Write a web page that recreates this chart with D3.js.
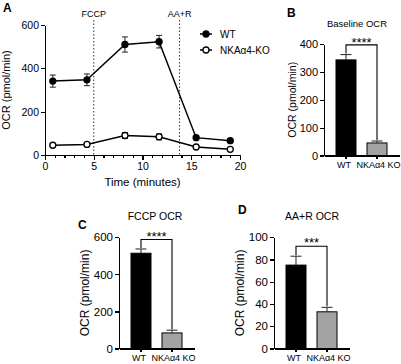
<!DOCTYPE html>
<html>
<head>
<meta charset="utf-8">
<script src="https://cdn.jsdelivr.net/npm/d3@7"></script>
<style>
  body { margin: 0; background: #ffffff; }
  svg { display: block; font-family: "Liberation Sans", Arial, Helvetica, sans-serif; }
  text { fill: #000; }
  .axis path, .axis line { stroke: #000; stroke-width: 1.2px; shape-rendering: crispEdges; }
  .axis text { font-family: "Liberation Sans", Arial, sans-serif; fill: #000; }
  .panel-letter { font-weight: bold; font-size: 12px; }
  .err { stroke: #222; stroke-width: 1px; fill: none; }
  .data-line { fill: none; stroke: #000; stroke-width: 1.5px; }
  .inject-line { stroke: #333; stroke-width: 1px; stroke-dasharray: 1.5, 2; }
  .bracket { fill: none; stroke: #000; stroke-width: 1.1px; }
</style>
</head>
<body>
<svg id="chart" width="401" height="364"></svg>
<script>
// ---- data: Seahorse trace (panel A) ----
const times = [0.8, 4.3, 8.2, 11.7, 15.5, 19.0];
const wtOcr = [341, 347, 510, 523, 80, 66];
const wtSem = [28, 27, 35, 29, 5, 8];
const koOcr = [45, 49, 90, 84, 37, 26];
const koSem = [5, 5, 14, 14, 5, 4];
const injectionNames = ['FCCP', 'AA+R'];
const injectionTimes = [5, 13.8];
const timeTicks = [0, 5, 10, 15, 20];
const ocrTicks = [0, 200, 400, 600];
const seriesNames = ['WT', 'NKAα4-KO'];

// ---- data: bar panels (B, C, D) ----
const groups = ['WT', 'NKAα4 KO'];
const baselineOcr = [343, 45];
const baselineSem = [19, 7];
const fccpOcr = [514, 84];
const fccpSem = [23, 15];
const aarOcr = [75, 33];
const aarSem = [8, 4];
const baselineTicks = [0, 100, 200, 300, 400];
const fccpTicks = [0, 200, 400, 600];
const aarTicks = [0, 20, 40, 60, 80, 100];
const stars = ['****', '****', '***'];
const bracketLevels = [397, 588, 92];

const svg = d3.select('#chart');

// ================= Panel A =================
function drawTrace() {
  const g = svg.append('g');
  const x = d3.scaleLinear().domain([0, 20]).range([45, 240]);
  const y = d3.scaleLinear().domain([0, 600]).range([155, 25]);

  g.append('text').attr('class', 'panel-letter').attr('x', 3).attr('y', 12).text('A');

  // injection markers
  injectionTimes.forEach((t, i) => {
    g.append('line')
      .attr('class', 'inject-line')
      .attr('x1', x(t)).attr('x2', x(t))
      .attr('y1', 20).attr('y2', y(0));
    g.append('text')
      .attr('x', x(t)).attr('y', 17)
      .attr('text-anchor', 'middle')
      .style('font-size', '9px')
      .text(injectionNames[i]);
  });

  // axes
  g.append('g')
    .attr('class', 'axis')
    .attr('transform', 'translate(' + x(0) + ',0)')
    .call(d3.axisLeft(y).tickValues(ocrTicks).tickSize(4).tickSizeOuter(0).tickPadding(2))
    .selectAll('text').style('font-size', '10.5px');

  g.append('g')
    .attr('class', 'axis')
    .attr('transform', 'translate(0,' + y(0) + ')')
    .call(d3.axisBottom(x).tickValues(d3.range(0, 21, 1)).tickSize(2.5).tickSizeOuter(0).tickFormat(''));

  g.append('g')
    .attr('class', 'axis')
    .attr('transform', 'translate(0,' + y(0) + ')')
    .call(d3.axisBottom(x).tickValues(timeTicks).tickSize(4.5).tickSizeOuter(0).tickPadding(3))
    .selectAll('text').style('font-size', '10.5px');

  g.append('text')
    .attr('x', (x(0) + x(20)) / 2).attr('y', 186)
    .attr('text-anchor', 'middle')
    .style('font-size', '11.5px')
    .text('Time (minutes)');

  g.append('text')
    .attr('transform', 'translate(10,' + (y(0) + y(600)) / 2 + ') rotate(-90)')
    .attr('text-anchor', 'middle')
    .style('font-size', '11px')
    .text('OCR (pmol/min)');

  const series = [
    { mean: wtOcr, sem: wtSem, fill: '#000' },
    { mean: koOcr, sem: koSem, fill: '#fff' },
  ];

  const line = d3.line().x((d) => x(d[0])).y((d) => y(d[1]));

  series.forEach((s) => {
    const pts = times.map((t, i) => [t, s.mean[i], s.sem[i]]);
    const eg = g.append('g');
    pts.forEach((p) => {
      eg.append('path')
        .attr('class', 'err')
        .attr('d',
          'M' + x(p[0]) + ',' + y(p[1] - p[2]) + 'V' + y(p[1] + p[2]) +
          'M' + (x(p[0]) - 3) + ',' + y(p[1] + p[2]) + 'H' + (x(p[0]) + 3) +
          'M' + (x(p[0]) - 3) + ',' + y(p[1] - p[2]) + 'H' + (x(p[0]) + 3));
    });
    g.append('path').attr('class', 'data-line').attr('d', line(pts));
    g.append('g')
      .selectAll('circle')
      .data(pts)
      .enter()
      .append('circle')
      .attr('cx', (d) => x(d[0]))
      .attr('cy', (d) => y(d[1]))
      .attr('r', 3)
      .attr('fill', s.fill)
      .attr('stroke', '#000')
      .attr('stroke-width', 1.3);
  });

  // legend
  const legend = g.append('g').attr('class', 'legend');
  seriesNames.forEach((name, i) => {
    const ly = 34 + i * 16;
    legend.append('line')
      .attr('x1', 200).attr('x2', 212).attr('y1', ly).attr('y2', ly)
      .attr('stroke', '#000').attr('stroke-width', 1.5);
    legend.append('circle')
      .attr('cx', 206).attr('cy', ly).attr('r', 3)
      .attr('fill', series[i].fill).attr('stroke', '#000').attr('stroke-width', 1.3);
    legend.append('text')
      .attr('x', 220).attr('y', ly + 3.5)
      .style('font-size', '10px')
      .text(name);
  });
}

// ================= Bar panels =================
function drawBars(o) {
  const g = svg.append('g');
  const x = d3.scaleBand().domain(groups).range([o.left, o.left + 75])
    .paddingInner(0.355).paddingOuter(0.387);
  const y = d3.scaleLinear().domain([0, o.ticks[o.ticks.length - 1]]).range([o.bottom, o.top]);

  g.append('text').attr('class', 'panel-letter').attr('x', o.letterX).attr('y', o.letterY).text(o.letter);
  g.append('text')
    .attr('x', o.titleX).attr('y', o.titleY)
    .attr('text-anchor', 'middle')
    .style('font-size', o.titleSize)
    .text(o.title);

  g.append('text')
    .attr('transform', 'translate(' + o.labelX + ',' + (o.top + o.bottom) / 2 + ') rotate(-90)')
    .attr('text-anchor', 'middle')
    .style('font-size', o.labelSize)
    .text('OCR (pmol/min)');

  // bars
  g.append('g')
    .selectAll('rect')
    .data(groups)
    .enter()
    .append('rect')
    .attr('x', (d) => x(d))
    .attr('width', x.bandwidth())
    .attr('y', (d, i) => y(o.mean[i]))
    .attr('height', (d, i) => y(0) - y(o.mean[i]))
    .attr('fill', (d, i) => (i === 0 ? '#000' : '#a3a3a3'))
    .attr('stroke', '#000')
    .attr('stroke-width', 1);

  // error bars (upper only)
  groups.forEach((d, i) => {
    const cx = x(d) + x.bandwidth() / 2;
    g.append('path')
      .attr('class', 'err')
      .attr('stroke-width', 1.2)
      .attr('d', 'M' + cx + ',' + y(o.mean[i]) + 'V' + y(o.mean[i] + o.sem[i]) +
        'M' + (cx - 5.5) + ',' + y(o.mean[i] + o.sem[i]) + 'H' + (cx + 5.5));
  });

  // significance bracket
  const c0 = x(groups[0]) + x.bandwidth() / 2;
  const c1 = x(groups[1]) + x.bandwidth() / 2;
  const yb = y(o.bracket);
  g.append('path')
    .attr('class', 'bracket')
    .attr('d', 'M' + c0 + ',' + (y(o.mean[0] + o.sem[0]) - 1) + 'V' + yb + 'H' + c1 +
      'V' + (y(o.mean[1] + o.sem[1]) - 1));
  g.append('text')
    .attr('x', (c0 + c1) / 2).attr('y', yb + o.starOffset)
    .attr('text-anchor', 'middle')
    .style('font-size', '13px')
    .text(o.stars);

  g.append('g')
    .attr('class', 'axis')
    .attr('transform', 'translate(' + o.left + ',0)')
    .call(d3.axisLeft(y).tickValues(o.ticks).tickSize(4).tickSizeOuter(0).tickPadding(2))
    .selectAll('text').style('font-size', o.tickSize);

  g.append('g')
    .attr('class', 'axis')
    .attr('transform', 'translate(0,' + o.bottom + ')')
    .call(d3.axisBottom(x).tickSize(3).tickSizeOuter(0).tickPadding(3))
    .selectAll('text')
    .style('font-size', '9px')
    .attr('dx', (d, i) => (i === 0 ? -2 : 1.5));
}

drawTrace();

drawBars({
  letter: 'B', letterX: 287, letterY: 17,
  title: 'Baseline OCR', titleX: 357, titleY: 27, titleSize: '9.5px',
  left: 324, top: 44, bottom: 155.5,
  ticks: baselineTicks, tickSize: '11px',
  labelX: 296, labelSize: '10.5px',
  mean: baselineOcr, sem: baselineSem,
  bracket: bracketLevels[0], stars: stars[0], starOffset: 2.5,
});

drawBars({
  letter: 'C', letterX: 78, letterY: 229,
  title: 'FCCP OCR', titleX: 155, titleY: 220, titleSize: '10.5px',
  left: 119, top: 237.3, bottom: 348.5,
  ticks: fccpTicks, tickSize: '11.5px',
  labelX: 89, labelSize: '12px',
  mean: fccpOcr, sem: fccpSem,
  bracket: bracketLevels[1], stars: stars[1], starOffset: 1,
});

drawBars({
  letter: 'D', letterX: 238, letterY: 214,
  title: 'AA+R OCR', titleX: 312, titleY: 220, titleSize: '10.5px',
  left: 274, top: 237.3, bottom: 348.5,
  ticks: aarTicks, tickSize: '11.5px',
  labelX: 244, labelSize: '12px',
  mean: aarOcr, sem: aarSem,
  bracket: bracketLevels[2], stars: stars[2], starOffset: 1,
});
</script>
</body>
</html>
